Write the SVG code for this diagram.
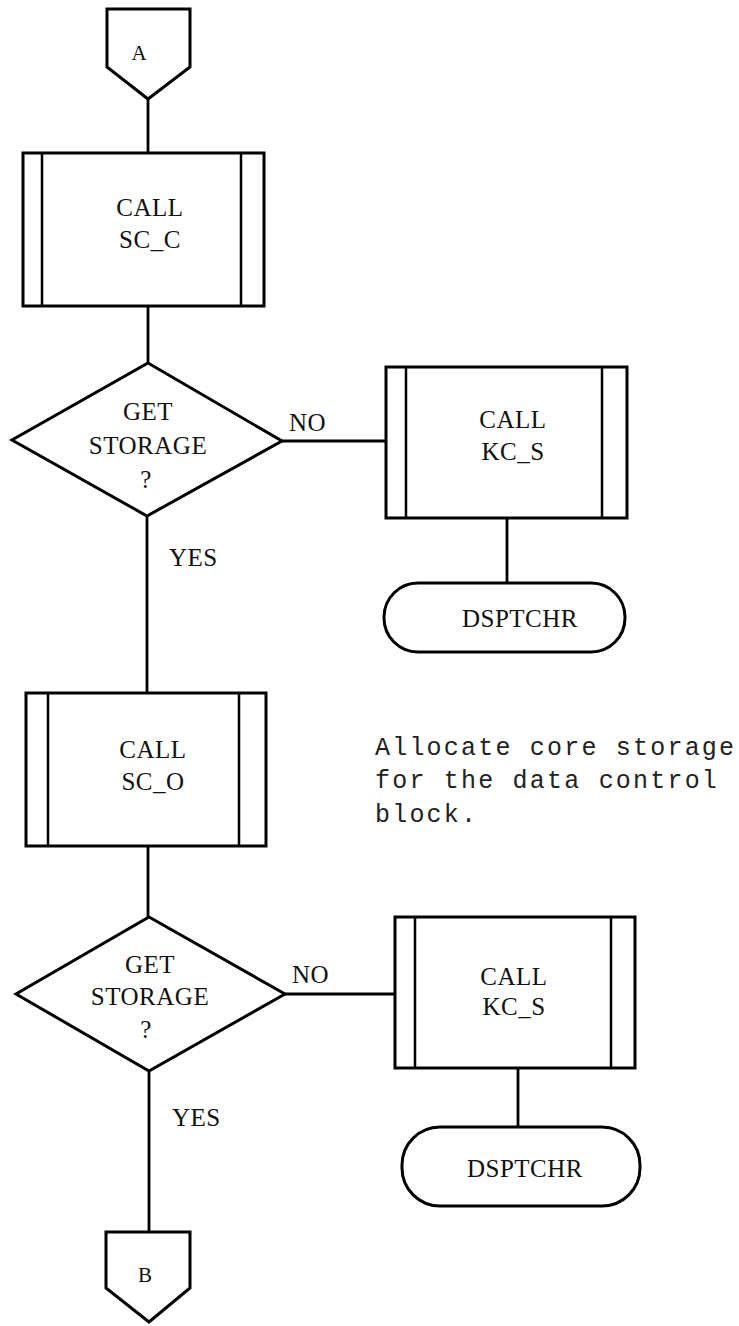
<svg xmlns="http://www.w3.org/2000/svg" width="739" height="1326" viewBox="0 0 739 1326">
<style>
.s{fill:#fff;stroke:#000;stroke-width:3;stroke-linejoin:miter}
.in{stroke:#000;stroke-width:2.5;fill:none}
.c{stroke:#000;stroke-width:2.8;fill:none}
.t{font-family:"Liberation Serif","DejaVu Serif",serif;font-size:25px;letter-spacing:0.5px;fill:#111;text-anchor:middle}
.l{font-family:"Liberation Serif","DejaVu Serif",serif;font-size:25px;letter-spacing:0.5px;fill:#111}
.n{font-family:"Liberation Mono","DejaVu Sans Mono",monospace;font-size:25px;letter-spacing:2.2px;fill:#222}
</style>
<g id="connectors">
<line class="c" x1="148" y1="99" x2="148" y2="153"/>
<line class="c" x1="148" y1="306" x2="148" y2="363"/>
<line class="c" x1="282" y1="441" x2="386" y2="441"/>
<line class="c" x1="507" y1="518" x2="507" y2="583"/>
<line class="c" x1="147" y1="516" x2="147" y2="693"/>
<line class="c" x1="148" y1="846" x2="148" y2="917"/>
<line class="c" x1="285" y1="994" x2="395" y2="994"/>
<line class="c" x1="518" y1="1068" x2="518" y2="1127"/>
<line class="c" x1="149" y1="1071" x2="149" y2="1232"/>
<text class="l" x="289" y="431">NO</text>
<text class="l" x="169" y="566">YES</text>
<text class="l" x="292" y="983">NO</text>
<text class="l" x="172" y="1126">YES</text>
</g>
<g id="connA">
<polygon class="s" points="107,9 190,9 190,67 148,99 107,67"/>
<text class="t" x="139" y="60" style="font-size:21px;letter-spacing:0">A</text>
</g>
<g id="callSC_C">
<rect class="s" x="23" y="153" width="241" height="153"/>
<line class="in" x1="42" y1="153" x2="42" y2="306"/>
<line class="in" x1="241" y1="153" x2="241" y2="306"/>
<text class="t" x="150" y="216">CALL</text>
<text class="t" x="150" y="248">SC_C</text>
</g>
<g id="dec1">
<polygon class="s" points="148,363 282,441 147,516 12,440"/>
<text class="t" x="148" y="420">GET</text>
<text class="t" x="148" y="454">STORAGE</text>
<text class="t" x="146" y="488">?</text>
</g>
<g id="callKC_S1">
<rect class="s" x="386" y="367" width="241" height="151"/>
<line class="in" x1="406" y1="367" x2="406" y2="518"/>
<line class="in" x1="602" y1="367" x2="602" y2="518"/>
<text class="t" x="513" y="428">CALL</text>
<text class="t" x="513" y="460">KC_S</text>
</g>
<g id="dsp1">
<rect class="s" x="384" y="583" width="241" height="69" rx="34" ry="34"/>
<text class="t" x="520" y="627">DSPTCHR</text>
</g>
<g id="callSC_O">
<rect class="s" x="26" y="693" width="240" height="153"/>
<line class="in" x1="48" y1="693" x2="48" y2="846"/>
<line class="in" x1="239" y1="693" x2="239" y2="846"/>
<text class="t" x="153" y="758">CALL</text>
<text class="t" x="153" y="790">SC_O</text>
</g>
<g id="note">
<text class="n" x="375" y="755">Allocate core storage</text>
<text class="n" x="375" y="788">for the data control</text>
<text class="n" x="375" y="822">block.</text>
</g>
<g id="dec2">
<polygon class="s" points="149,917 285,994 149,1071 16,994"/>
<text class="t" x="150" y="973">GET</text>
<text class="t" x="150" y="1005">STORAGE</text>
<text class="t" x="146" y="1038">?</text>
</g>
<g id="callKC_S2">
<rect class="s" x="395" y="917" width="240" height="151"/>
<line class="in" x1="415" y1="917" x2="415" y2="1068"/>
<line class="in" x1="611" y1="917" x2="611" y2="1068"/>
<text class="t" x="514" y="985">CALL</text>
<text class="t" x="514" y="1015">KC_S</text>
</g>
<g id="dsp2">
<rect class="s" x="402" y="1127" width="238" height="79" rx="38" ry="38"/>
<text class="t" x="525" y="1177">DSPTCHR</text>
</g>
<g id="connB">
<polygon class="s" points="106,1232 190,1232 190,1288 149,1322 106,1288"/>
<text class="t" x="145" y="1282" style="font-size:21px;letter-spacing:0">B</text>
</g>
</svg>
